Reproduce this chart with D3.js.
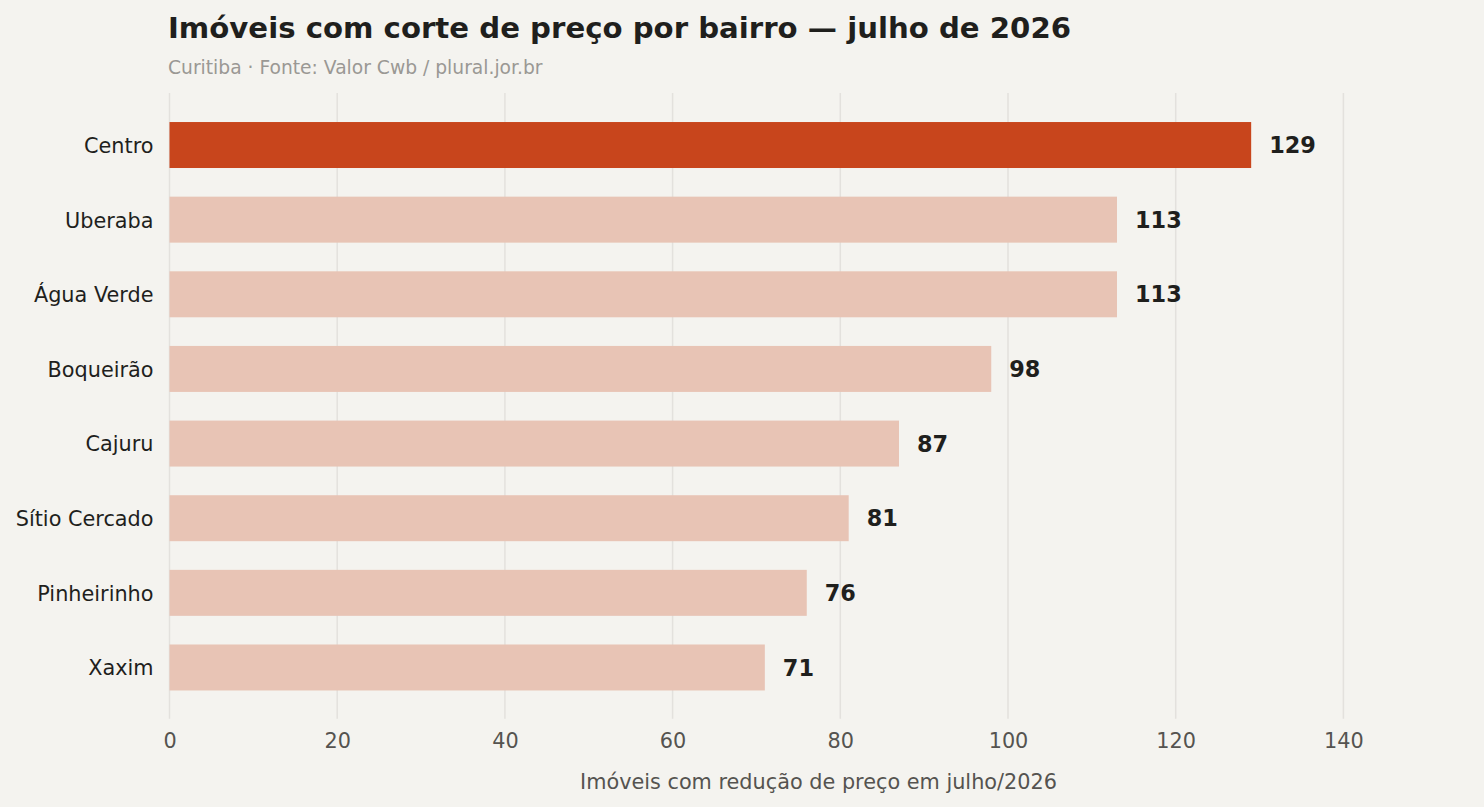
<!DOCTYPE html>
<html>
<head>
<meta charset="utf-8">
<script src="https://cdn.jsdelivr.net/npm/d3@7"></script>
<style>
  body { margin: 0; background: #f4f3ef; }
  svg { display: block; font-family: "DejaVu Sans", sans-serif; }
</style>
</head>
<body>
<div id="chart"></div>
<script>
// data
const bairros = ["Centro", "Uberaba", "Água Verde", "Boqueirão", "Cajuru", "Sítio Cercado", "Pinheirinho", "Xaxim"];
const imoveis = [129, 113, 113, 98, 87, 81, 76, 71];
const xTicks = [0, 20, 40, 60, 80, 100, 120, 140];

const width = 1484, height = 807;
const plot = {left: 169.5, right: 1467.5, top: 93, bottom: 718.7};

const svg = d3.select("#chart").append("svg")
    .attr("width", width)
    .attr("height", height);

svg.append("rect").attr("width", width).attr("height", height).attr("fill", "#f4f3ef");

// scales
const x = d3.scaleLinear()
    .domain([0, d3.max(imoveis) * 1.2])
    .range([plot.left, plot.right]);

const y = d3.scaleBand()
    .domain(bairros)
    .range([107.7, 704.8])
    .paddingInner(0.384)
    .paddingOuter(0.192);

// grid
svg.append("g")
    .selectAll("line")
    .data(xTicks)
    .join("line")
    .attr("x1", d => x(d)).attr("x2", d => x(d))
    .attr("y1", plot.top).attr("y2", plot.bottom)
    .attr("stroke", "#e3e1dd")
    .attr("stroke-width", 1.5);

// x axis (no domain line, only labels)
const xAxis = svg.append("g")
    .attr("transform", `translate(0,${plot.bottom})`)
    .call(d3.axisBottom(x).tickValues(xTicks).tickSize(0).tickPadding(15));
xAxis.select(".domain").remove();
xAxis.selectAll("text")
    .attr("font-family", "DejaVu Sans")
    .attr("font-size", "20.8px")
    .attr("fill", "#555350");

// y axis labels
const yAxis = svg.append("g")
    .attr("transform", `translate(${plot.left},0)`)
    .call(d3.axisLeft(y).tickSize(0).tickPadding(16));
yAxis.select(".domain").remove();
yAxis.selectAll("text")
    .attr("font-family", "DejaVu Sans")
    .attr("font-size", "20.8px")
    .attr("dy", "0.38em")
    .attr("fill", "#1f1f1d");

// bars
svg.append("g")
    .selectAll("rect")
    .data(bairros)
    .join("rect")
    .attr("x", x(0))
    .attr("y", d => y(d))
    .attr("width", (d, i) => x(imoveis[i]) - x(0))
    .attr("height", y.bandwidth())
    .attr("fill", (d, i) => i === 0 ? "#c8451c" : "#e8c4b5");

// value labels
svg.append("g")
    .selectAll("text")
    .data(bairros)
    .join("text")
    .attr("x", (d, i) => x(imoveis[i]) + 18)
    .attr("y", d => y(d) + y.bandwidth() / 2)
    .attr("dy", "0.36em")
    .attr("font-size", "22.4px")
    .attr("font-weight", "bold")
    .attr("fill", "#1f1f1d")
    .text((d, i) => imoveis[i]);

// titles
svg.append("text")
    .attr("x", 168).attr("y", 38)
    .attr("font-size", "29.2px")
    .attr("font-weight", "bold")
    .attr("fill", "#1f1f1d")
    .text("Imóveis com corte de preço por bairro — julho de 2026");

svg.append("text")
    .attr("x", 168).attr("y", 74)
    .attr("font-size", "18.7px")
    .attr("fill", "#9a9894")
    .text("Curitiba · Fonte: Valor Cwb / plural.jor.br");

svg.append("text")
    .attr("x", (plot.left + plot.right) / 2).attr("y", 789)
    .attr("text-anchor", "middle")
    .attr("font-size", "20.8px")
    .attr("fill", "#555350")
    .text("Imóveis com redução de preço em julho/2026");
</script>
</body>
</html>
